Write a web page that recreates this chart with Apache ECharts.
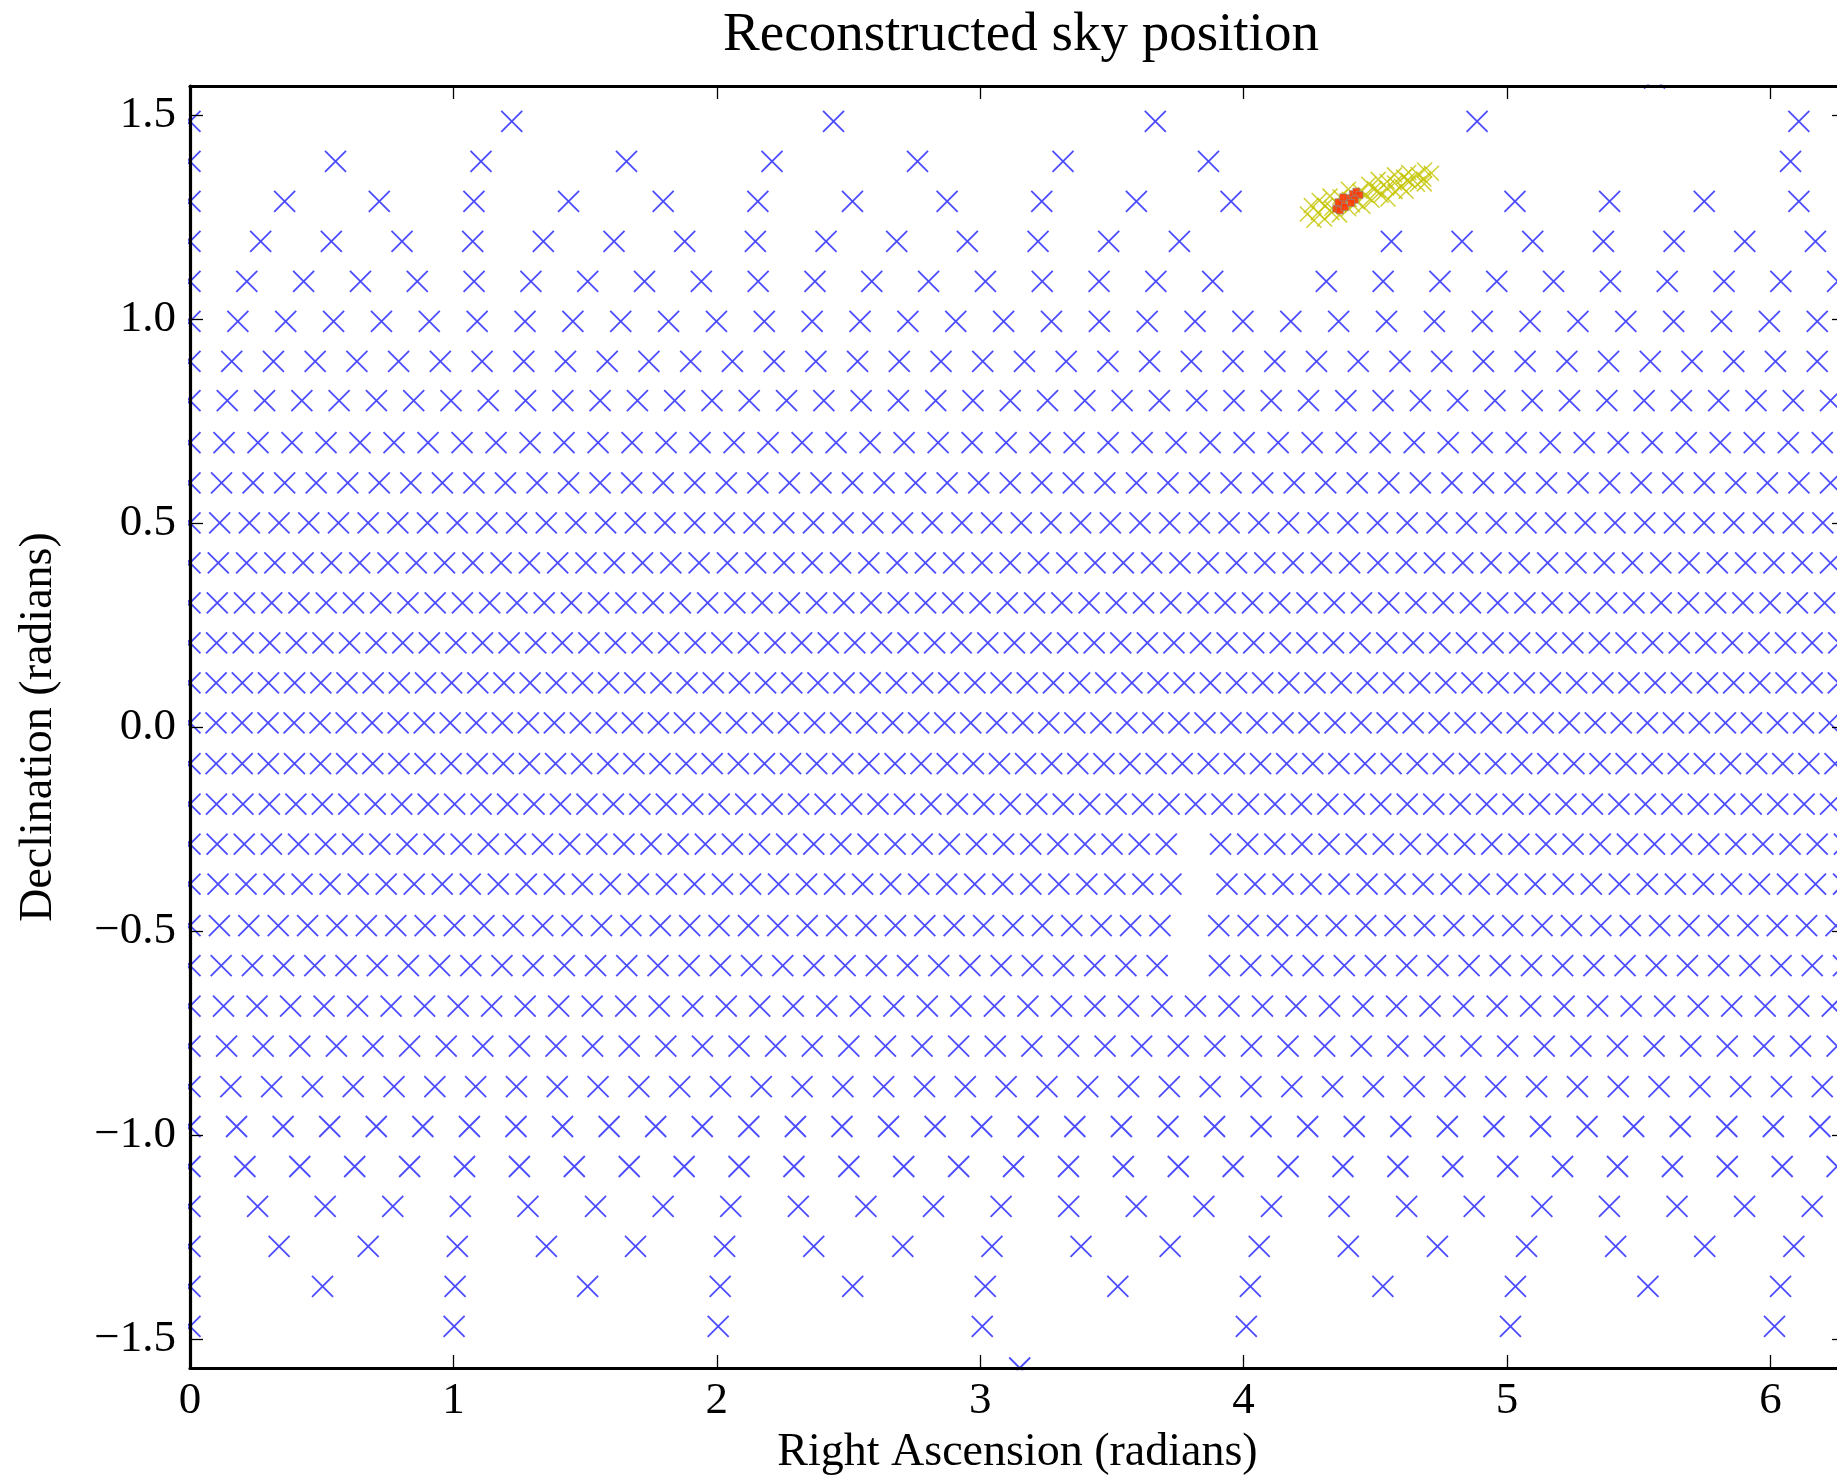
<!DOCTYPE html>
<html>
<head>
<meta charset="utf-8">
<script src="https://cdn.jsdelivr.net/npm/echarts@6/dist/echarts.min.js"></script>
<style>html,body{margin:0;padding:0;background:#fff;}#chart{width:1837px;height:1477px;}</style>
</head>
<body>
<div id="chart"></div>
<script>
// ---- data ----
// grid rows: declination of each row, RA step along the row, number of points (RA = k*step, k=0..count-1)
const rowDec   = [1.484, 1.386, 1.288, 1.190, 1.092, 0.994, 0.896, 0.800, 0.697, 0.598, 0.500, 0.402, 0.304, 0.206, 0.108, 0.010,
                  -0.090, -0.189, -0.287, -0.385, -0.487, -0.585, -0.684, -0.782, -0.881, -0.979, -1.077, -1.175, -1.273, -1.371, -1.469];
const rowStep  = [1.2216, 0.5524, 0.3593, 0.2683, 0.2157, 0.1817, 0.1584, 0.14155, 0.1291, 0.11977, 0.11271, 0.10738, 0.10343, 0.10096, 0.09933, 0.0988,
                  0.09913, 0.10046, 0.10296, 0.10640, 0.11159, 0.11844, 0.12724, 0.13896, 0.15492, 0.1768, 0.20844, 0.25661, 0.33828, 0.5032, 1.0026];
const rowCount = [6, 12, 18, 24, 30, 35, 40, 45, 49, 53, 56, 59, 61, 63, 64, 64,
                  64, 63, 62, 60, 57, 54, 50, 46, 41, 36, 31, 25, 19, 13, 7];
// grid points absent from the picture (row index, point index along the row)
const missingRow = [1, 1, 1, 2, 2, 3, 3, 4, 18, 19, 20, 21];
const missingK   = [8, 9, 10, 12, 13, 15, 16, 19, 37, 36, 34, 32];
// the two pole points
const poleRA  = [5.56, 3.15];
const poleDec = [1.59, -1.5708];
// yellow cluster of samples
const yellowRA  = [4.242, 4.267, 4.257, 4.283, 4.307, 4.287, 4.310, 4.335, 4.328, 4.364, 4.361, 4.366, 4.399, 4.401, 4.398,
                   4.431, 4.453, 4.442, 4.463, 4.487, 4.475, 4.497, 4.522, 4.511, 4.548, 4.543, 4.545, 4.575, 4.573, 4.573,
                   4.599, 4.617, 4.607, 4.629, 4.627, 4.660, 4.662, 4.684, 4.687, 4.713, 4.510, 4.414, 4.335, 4.623, 4.686];
const yellowDec = [1.257, 1.242, 1.278, 1.260, 1.245, 1.290, 1.277, 1.261, 1.301, 1.255, 1.280, 1.299, 1.270, 1.293, 1.318,
                   1.287, 1.276, 1.313, 1.304, 1.291, 1.330, 1.319, 1.303, 1.342, 1.294, 1.321, 1.337, 1.312, 1.333, 1.353,
                   1.325, 1.313, 1.348, 1.337, 1.359, 1.330, 1.354, 1.343, 1.365, 1.357, 1.314, 1.280, 1.271, 1.340, 1.331];
// red/orange best samples
const redRA  = [4.352, 4.365, 4.375, 4.360, 4.385, 4.400, 4.415, 4.428, 4.440, 4.422, 4.408, 4.378];
const redDec = [1.270, 1.266, 1.283, 1.286, 1.274, 1.296, 1.306, 1.312, 1.304, 1.292, 1.284, 1.298];
// axis ticks
const xTicks = [0, 1, 2, 3, 4, 5, 6];
const yTicks = [-1.5, -1.0, -0.5, 0.0, 0.5, 1.0, 1.5];

// ---- build series data ----
const missingSet = new Set(missingRow.map((r, i) => r + ':' + missingK[i]));
const blueData = [];
for (let i = 0; i < rowDec.length; i++) {
  for (let k = 0; k < rowCount[i]; k++) {
    if (missingSet.has(i + ':' + k)) continue;
    blueData.push([k * rowStep[i], rowDec[i]]);
  }
}
for (let i = 0; i < poleRA.length; i++) blueData.push([poleRA[i], poleDec[i]]);
const yellowData = yellowRA.map((v, i) => [v, yellowDec[i]]);
const redData = redRA.map((v, i) => [v, redDec[i]]);

const FONT = 'Liberation Serif';
const XPATH = 'path://M0,0L10,10M10,0L0,10';
const axisLineStyle = { color: '#000', width: 3.2 };
const tickStyle = { color: '#000', width: 1.3 };

const chart = echarts.init(document.getElementById('chart'), null, { renderer: 'canvas' });
chart.setOption({
  animation: false,
  backgroundColor: '#fff',
  title: {
    text: 'Reconstructed sky position',
    left: 1016, top: 3, textAlign: 'center',
    textStyle: { fontFamily: FONT, fontSize: 55, fontWeight: 'normal', color: '#000' }
  },
  grid: { left: 190, top: 86, right: -8, bottom: 109, containLabel: false, outerBoundsMode: 'none' },
  xAxis: [{
    type: 'value', min: 0, max: 2 * Math.PI, position: 'bottom', z: 5,
    axisLine: { show: true, onZero: false, lineStyle: axisLineStyle },
    axisTick: { show: true, inside: true, length: 13, customValues: xTicks, lineStyle: tickStyle },
    axisLabel: { show: true, customValues: xTicks, margin: 11, formatter: v => String(Math.round(v)),
                 fontFamily: FONT, fontSize: 45, color: '#000' },
    splitLine: { show: false },
    name: 'Right Ascension (radians)', nameLocation: 'middle', nameGap: 62,
    nameTextStyle: { fontFamily: FONT, fontSize: 46, color: '#000' }
  }, {
    type: 'value', min: 0, max: 2 * Math.PI, position: 'top', z: 5,
    axisLine: { show: true, onZero: false, lineStyle: axisLineStyle },
    axisTick: { show: true, inside: true, length: 13, customValues: xTicks, lineStyle: tickStyle },
    axisLabel: { show: false }, splitLine: { show: false }
  }],
  yAxis: [{
    type: 'value', min: -Math.PI / 2, max: Math.PI / 2, position: 'left', z: 5,
    axisLine: { show: true, onZero: false, lineStyle: axisLineStyle },
    axisTick: { show: true, inside: true, length: 13, customValues: yTicks, lineStyle: tickStyle },
    axisLabel: { show: true, customValues: yTicks, margin: 14,
                 formatter: v => v.toFixed(1).replace('-', '\u2212'),
                 fontFamily: FONT, fontSize: 45, color: '#000' },
    splitLine: { show: false },
    name: 'Declination (radians)', nameLocation: 'middle', nameGap: 128, nameRotate: 90,
    nameTextStyle: { fontFamily: FONT, fontSize: 46, color: '#000' }
  }, {
    type: 'value', min: -Math.PI / 2, max: Math.PI / 2, position: 'right', z: 5,
    axisLine: { show: true, onZero: false, lineStyle: axisLineStyle },
    axisTick: { show: true, inside: true, length: 13, customValues: yTicks, lineStyle: tickStyle },
    axisLabel: { show: false }, splitLine: { show: false }
  }],
  graphic: [
    { type: 'rect', z: 4, silent: true, shape: { x: 176, y: 60, width: 12, height: 1330 }, style: { fill: '#fff' } },
    { type: 'rect', z: 4, silent: true, shape: { x: 176, y: 60, width: 1700, height: 24.4 }, style: { fill: '#fff' } },
    { type: 'rect', z: 4, silent: true, shape: { x: 176, y: 1370.2, width: 1700, height: 11 }, style: { fill: '#fff' } }
  ],
  series: [{
    type: 'scatter', xAxisIndex: 0, yAxisIndex: 0, data: blueData, clip: false, silent: true, z: 2,
    symbol: XPATH, symbolSize: 21,
    itemStyle: { color: 'rgba(0,0,0,0)', borderColor: '#1f1fff', borderWidth: 1.8 }
  }, {
    type: 'scatter', xAxisIndex: 0, yAxisIndex: 0, data: yellowData, clip: false, silent: true, z: 3,
    symbol: XPATH, symbolSize: 15,
    itemStyle: { color: 'rgba(0,0,0,0)', borderColor: '#c4c400', borderWidth: 1.5 }
  }, {
    type: 'scatter', xAxisIndex: 0, yAxisIndex: 0, data: redData, clip: false, silent: true, z: 3.5,
    symbol: 'rect', symbolSize: 7,
    itemStyle: { color: '#ff3a00', borderColor: '#8a8a8a', borderWidth: 0.7, opacity: 0.9 }
  }]
});
</script>
</body>
</html>
